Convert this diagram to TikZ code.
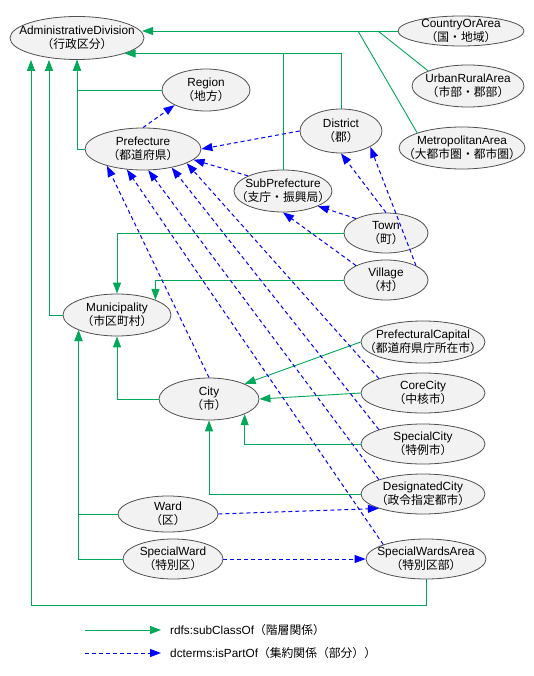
\documentclass[tikz,border=0pt]{standalone}
\usepackage{fontspec}
\setmainfont{Liberation Sans}
\newfontfamily\cjk{Noto Sans CJK JP}
\usepackage{xcolor}
\definecolor{Col1}{RGB}{0,168,89}
\definecolor{Col2}{RGB}{0,0,255}
\definecolor{Col3}{RGB}{242,242,242}
\definecolor{Col4}{RGB}{80,80,80}
\usepackage{tikz}
\usetikzlibrary{shapes}
\usetikzlibrary{arrows.meta}
\newcommand{\Cls}[2]{\makebox[0pt]{\raisebox{-3.5pt}[0pt][0pt]{%
    \begin{tabular}{@{}c@{}}#1\\{\cjk #2}\end{tabular}}}}
\tikzstyle{Class}=[ellipse,draw=Col4,fill=Col3,line width=0.8pt,inner sep=0pt,
minimum height=42pt,font=\fontsize{11.8}{14}\selectfont]
\tikzstyle{SubEdge}=[draw=Col1,line width=0.9pt,
-{Triangle[length=11pt,width=8pt]}]
\tikzstyle{SubLine}=[draw=Col1,line width=0.9pt]
\tikzstyle{PartEdge}=[draw=Col2,line width=1pt,dash pattern=on 4pt off 3pt,
-{Triangle[length=11pt,width=8pt]}]
\tikzstyle{Legend}=[anchor=west,inner sep=0pt,font=\fontsize{11.8}{14}\selectfont]

\begin{document}
\begin{tikzpicture}[x=1pt,y=-1pt]
    \useasboundingbox(0,0)rectangle(534,676);
        \node[Class,minimum width=134pt,minimum height=43pt](AD)at(77,38)
            {\Cls{AdministrativeDivision}{（行政区分）}};
        \node[Class,minimum width=126pt,minimum height=30pt](Country)at(461,31)
            {\Cls{CountryOrArea}{（国・地域）}};
        \node[Class,minimum width=112pt](Urban)at(468,86)
            {\Cls{UrbanRuralArea}{（市部・郡部）}};
        \node[Class,minimum width=126pt](Metro)at(462,148)
            {\Cls{MetropolitanArea}{（大都市圏・都市圏）}};
        \node[Class,minimum width=88pt](Region)at(206,90){\Cls{Region}{（地方）}};
        \node[Class,minimum width=116pt](Pref)at(143,149)
            {\Cls{Prefecture}{（都道府県）}};
        \node[Class,minimum width=82pt,minimum height=44pt](District)at(341,131)
            {\Cls{District}{（郡）}};
        \node[Class,minimum width=98pt](SubPref)at(283,191)
            {\Cls{SubPrefecture}{（支庁・振興局）}};
        \node[Class,minimum width=84pt,minimum height=40pt](Town)at(386,233)
            {\Cls{Town}{（町）}};
        \node[Class,minimum width=84pt,minimum height=40pt](Village)at(386,280)
            {\Cls{Village}{（村）}};
        \node[Class,minimum width=108pt](Muni)at(117,315)
            {\Cls{Municipality}{（市区町村）}};
        \node[Class,minimum width=124pt](PCap)at(423,342)
            {\Cls{PrefecturalCapital}{（都道府県庁所在市）}};
        \node[Class,minimum width=124pt,minimum height=40pt](Core)at(423,393)
            {\Cls{CoreCity}{（中核市）}};
        \node[Class,minimum width=124pt,minimum height=40pt](SCity)at(423,444)
            {\Cls{SpecialCity}{（特例市）}};
        \node[Class,minimum width=124pt,minimum height=40pt](DCity)at(423,494)
            {\Cls{DesignatedCity}{（政令指定都市）}};
        \node[Class,minimum width=100pt](City)at(209,399){\Cls{City}{（市）}};
        \node[Class,minimum width=100pt,minimum height=36pt](Ward)at(168,514)
            {\Cls{Ward}{（区）}};
        \node[Class,minimum width=100pt,minimum height=40pt](SWard)at(173,559)
            {\Cls{SpecialWard}{（特別区）}};
        \node[Class,minimum width=120pt,minimum height=40pt](SWArea)at(426,559)
            {\Cls{SpecialWardsArea}{（特別区部）}};
        \coordinate(j1)at(378,31);
        \coordinate(j2)at(358,31);
        \coordinate(bl)at(31,605);
        % subClassOf
        \draw[SubEdge](Country.west)--(AD.5|-Country.west);
        \draw[SubLine](Urban.north west)--(j1);
        \draw[SubLine](Metro.north west)--(j2);
        \draw[SubEdge](District.north)|-(AD.-18);
        \draw[SubLine](SubPref.north)--(SubPref.north|-AD.-18);
        \draw[SubEdge](Region.west)-|(AD.south);
        \draw[SubEdge](Pref.west)-|(AD.south);
        \draw[SubEdge](Muni.west)-|([xshift=-28pt]AD.south);
        \draw[SubEdge](SWArea.south)|-(bl)--([xshift=-46pt]AD.south);
        \draw[SubEdge](Town.west)-|(Muni.north);
        \draw[SubEdge](Village.west)-|(Muni.north east);
        \draw[SubEdge](City.west)-|(Muni.south);
        \draw[SubEdge](Ward.west)-|(Muni.south west);
        \draw[SubEdge](SWard.west)-|(Muni.south west);
        \draw[SubEdge](PCap.west)--(City.north east);
        \draw[SubEdge](Core.west)--(City.east);
        \draw[SubEdge](SCity.west)-|(City.south east);
        \draw[SubEdge](DCity.west)-|(City.south);
        % isPartOf
        \draw[PartEdge](Pref.north)--(Region.south west);
        \draw[PartEdge](District.west)--(Pref.east);
        \draw[PartEdge](SubPref.north west)--(Pref.-12);
        \draw[PartEdge](Town.north west)--(SubPref.south east);
        \draw[PartEdge](Village.north west)--(SubPref.south);
        \draw[PartEdge](Town.north)--(District.south);
        \draw[PartEdge](Village.north east)--(District.south east);
        \draw[PartEdge](City.north)--(Pref.-155);
        \draw[PartEdge](SWArea.north west)--(Pref.-128);
        \draw[PartEdge](DCity.north west)--(Pref.-76);
        \draw[PartEdge](SCity.north west)--(Pref.-33);
        \draw[PartEdge](Core.north west)--(Pref.-18);
        \draw[PartEdge](Ward.east)--(DCity.south west);
        \draw[PartEdge](SWard.east)--(SWArea.west);
        % legend
        \coordinate(L1)at(85,630);
        \coordinate(L2)at(85,653);
        \node[Legend](T1)at(170,630){rdfs:subClassOf{\cjk （階層関係）}};
        \node[Legend](T2)at(170,653){dcterms:isPartOf{\cjk （集約関係（部分））}};
        \draw[SubEdge](L1)--([xshift=-9pt]T1.west);
        \draw[PartEdge](L2)--([xshift=-9pt]T2.west);
    \end{tikzpicture}
\end{document}
